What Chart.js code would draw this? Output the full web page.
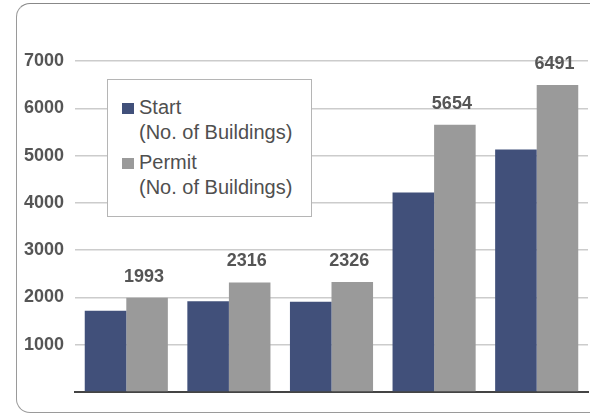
<!DOCTYPE html>
<html>
<head>
<meta charset="utf-8">
<script src="https://cdn.jsdelivr.net/npm/chart.js@4.4.1/dist/chart.umd.min.js"></script>
<style>
  html, body { margin: 0; padding: 0; background: #fff; }
  #wrap { position: relative; width: 590px; height: 417px; overflow: hidden; }
  #frame {
    position: absolute; left: 16px; top: 3px; width: 590px; height: 410px;
    border: 1.5px solid #9a9a9a; border-top-color: #888; border-radius: 14px; box-sizing: border-box;
  }
  #chart1 { position: absolute; left: 0; top: 0; }
  #legend {
    position: absolute; left: 107px; top: 79px; width: 205px; height: 138px;
    box-sizing: border-box; border: 1px solid #b5b5b5; background: #fff;
    font-family: 'Liberation Sans', Arial, sans-serif; font-size: 20px; color: #4f4f4f;
  }
  .item { position: absolute; left: 31px; line-height: 25px; }
  .box { position: absolute; left: -17px; top: 8px; width: 12px; height: 11px; }
</style>
</head>
<body>
<div id="wrap">
  <div id="frame"></div>
  <canvas id="chart1" width="590" height="417"></canvas>
  <div id="legend"></div>
</div>
<script>
let categories = ['1', '2', '3', '4', '5'];
let seriesNames = ['Start', 'Permit'];
let seriesUnit = '(No. of Buildings)';
let startValues = [1720, 1920, 1910, 4220, 5130];
let permitValues = [1993, 2316, 2326, 5654, 6491];
let yTicks = [0, 1000, 2000, 3000, 4000, 5000, 6000, 7000];
let colors = ['#41507a', '#9a9a9a'];

let numFont = "'Liberation Sans', Arial, sans-serif";

let legend = document.getElementById('legend');
seriesNames.forEach(function (name, i) {
  let item = document.createElement('div');
  item.className = 'item';
  item.style.top = (15 + i * 55) + 'px';
  item.innerHTML = '<span class="box" style="background:' + colors[i] + '"></span>' + name + '<br>' + seriesUnit;
  legend.appendChild(item);
});

// value labels over the permit bars
let valueLabels = {
  id: 'valueLabels',
  afterDatasetsDraw(chart) {
    let ctx = chart.ctx;
    let meta = chart.getDatasetMeta(1);
    ctx.save();
    ctx.font = 'bold 18px ' + numFont;
    ctx.fillStyle = '#555';
    ctx.textAlign = 'center';
    ctx.textBaseline = 'alphabetic';
    meta.data.forEach(function (bar, i) {
      ctx.fillText(String(permitValues[i]), bar.x - 3, bar.y - 16);
    });
    ctx.restore();
  }
};

let ctx1 = document.getElementById('chart1');
let chart1 = new Chart(ctx1, {
  type: 'bar',
  data: {
    labels: categories,
    datasets: [{
      label: seriesNames[0],
      backgroundColor: colors[0],
      data: startValues
    }, {
      label: seriesNames[1],
      backgroundColor: colors[1],
      data: permitValues
    }]
  },
  options: {
    responsive: false,
    animation: false,
    layout: { padding: { left: 0, top: 61, right: 2, bottom: 25 } },
    datasets: { bar: { categoryPercentage: 0.81, barPercentage: 1.0 } },
    plugins: {
      legend: { display: false },
      tooltip: { enabled: false }
    },
    scales: {
      x: {
        ticks: { display: false },
        grid: { display: false, drawTicks: false },
        border: { display: true, color: '#444', width: 2 }
      },
      y: {
        min: yTicks[0],
        max: yTicks[yTicks.length - 1],
        afterBuildTicks: function (scale) {
          scale.ticks = yTicks.map(function (v) { return { value: v }; });
        },
        afterFit: function (scale) { scale.width = 75; },
        ticks: {
          padding: 11,
          color: '#555',
          font: { family: numFont, size: 18, weight: 'bold' },
          callback: function (v) { return v === 0 ? '' : String(v); }
        },
        grid: { color: '#cccccc', lineWidth: 1.5, drawTicks: false },
        border: { display: false }
      }
    }
  },
  plugins: [valueLabels]
});
</script>
</body>
</html>
